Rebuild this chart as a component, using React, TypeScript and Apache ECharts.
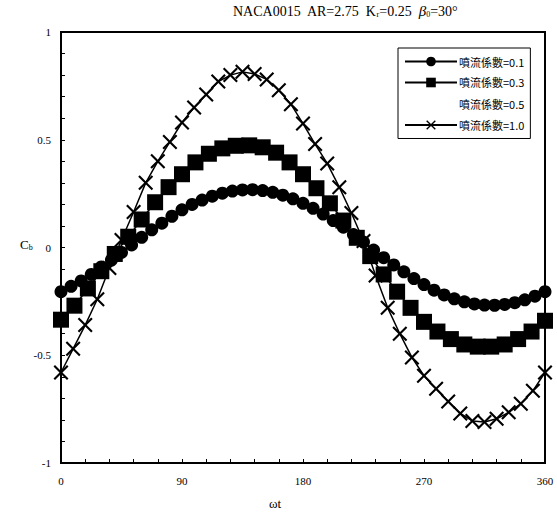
import React, { useEffect, useRef } from "react";
import * as echarts from "echarts";

const TITLE = "NACA0015  AR=2.75  K";
const SERIES_NAMES = ["噴流係數=0.1", "噴流係數=0.3", "噴流係數=0.5", "噴流係數=1.0"];

const X_LABELS = [0, 90, 180, 270, 360];
const Y_LABELS = [-1, -0.5, 0, 0.5, 1];

const THETA_01 = [0, 7.5, 15, 22.5, 30, 37.5, 45, 52.5, 60, 67.5, 75, 82.5, 90, 97.5, 105, 112.5, 120, 127.5, 135, 142.5, 150, 157.5, 165, 172.5, 180, 187.5, 195, 202.5, 210, 217.5, 225, 232.5, 240, 247.5, 255, 262.5, 270, 277.5, 285, 292.5, 300, 307.5, 315, 322.5, 330, 337.5, 345, 352.5, 360];
const CB_01 = [-0.205, -0.18, -0.155, -0.125, -0.09, -0.058, -0.023, 0.012, 0.047, 0.082, 0.113, 0.145, 0.175, 0.2, 0.22, 0.238, 0.252, 0.262, 0.267, 0.268, 0.264, 0.256, 0.243, 0.226, 0.205, 0.182, 0.155, 0.125, 0.094, 0.06, 0.025, -0.012, -0.047, -0.081, -0.113, -0.144, -0.172, -0.198, -0.22, -0.238, -0.252, -0.262, -0.267, -0.268, -0.264, -0.256, -0.243, -0.226, -0.205];

const THETA_03 = [0, 10, 20, 30, 40, 50, 60, 70, 80, 90, 100, 110, 120, 130, 140, 150, 160, 170, 180, 190, 200, 210, 220, 230, 240, 250, 260, 270, 280, 290, 300, 310, 320, 330, 340, 350, 360];
const CB_03 = [-0.335, -0.27, -0.19, -0.11, -0.03, 0.05, 0.13, 0.21, 0.28, 0.34, 0.395, 0.435, 0.46, 0.472, 0.474, 0.465, 0.44, 0.395, 0.34, 0.275, 0.205, 0.125, 0.045, -0.04, -0.125, -0.205, -0.28, -0.345, -0.39, -0.425, -0.45, -0.46, -0.46, -0.45, -0.425, -0.39, -0.34];

const THETA_05: number[] = [];
const CB_05: number[] = [];

const THETA_10 = [0, 9, 18, 27, 36, 45, 54, 63, 72, 81, 90, 99, 108, 117, 126, 135, 144, 153, 162, 171, 180, 189, 198, 207, 216, 225, 234, 243, 252, 261, 270, 279, 288, 297, 306, 315, 324, 333, 342, 351, 360];
const CB_10 = [-0.58, -0.47, -0.36, -0.24, -0.095, 0.035, 0.165, 0.3, 0.4, 0.49, 0.58, 0.65, 0.71, 0.77, 0.8, 0.815, 0.805, 0.78, 0.73, 0.665, 0.575, 0.48, 0.39, 0.28, 0.16, 0.03, -0.13, -0.28, -0.4, -0.51, -0.595, -0.655, -0.715, -0.77, -0.805, -0.81, -0.795, -0.765, -0.725, -0.665, -0.58];

const pairs = (xs: number[], ys: number[]) => xs.map((x, i) => [x, ys[i]]);

const X_SYMBOL =
  "path://M0,0.1 L0.1,0 L0.5,0.4 L0.9,0 L1,0.1 L0.6,0.5 L1,0.9 L0.9,1 L0.5,0.6 L0.1,1 L0,0.9 L0.4,0.5 Z";

const SERIF = "'Liberation Serif', 'DejaVu Serif', serif";
const CJK = "'Noto Sans CJK TC', 'Noto Sans CJK SC', sans-serif";

export default function App() {
  const ref = useRef<HTMLDivElement>(null);
  useEffect(() => {
    if (!ref.current) return;
    const chart = echarts.init(ref.current, undefined, { renderer: "svg" });
    const near = (v: number, list: number[]) => list.some((l) => Math.abs(l - v) < 1e-6);
    chart.setOption({
      animation: false,
      backgroundColor: "#fff",
      grid: {
        left: 61,
        right: 12,
        top: 32,
        bottom: 55,
        show: true,
        borderColor: "#000",
        borderWidth: 2,
        backgroundColor: "transparent",
      },
      legend: {
        left: 398,
        top: 48,
        orient: "vertical",
        backgroundColor: "#fff",
        borderColor: "#000",
        borderWidth: 1,
        borderRadius: 0,
        padding: [8, 6, 8, 6],
        itemGap: 10,
        itemWidth: 52,
        itemHeight: 12,
        textStyle: { fontFamily: CJK, fontSize: 11, color: "#000", padding: [0, 0, 0, -3] },
        data: [
          { name: SERIES_NAMES[0] },
          { name: SERIES_NAMES[1] },
          { name: SERIES_NAMES[2], icon: "none" },
          { name: SERIES_NAMES[3] },
        ],
      },
      xAxis: {
        type: "value",
        min: 0,
        max: 360,
        interval: 18,
        axisLine: { show: true, onZero: false, lineStyle: { color: "#000", width: 2 } },
        axisTick: { show: true, inside: true, length: 4, lineStyle: { color: "#000" } },
        splitLine: { show: false },
        axisLabel: {
          margin: 12,
          fontFamily: SERIF,
          fontSize: 11,
          color: "#000",
          showMinLabel: true,
          showMaxLabel: true,
          formatter: (v: number) => (near(v, X_LABELS) ? String(Math.round(v)) : ""),
        },
      },
      yAxis: {
        type: "value",
        min: -1,
        max: 1,
        interval: 0.1,
        axisLine: { show: true, onZero: false, lineStyle: { color: "#000", width: 2 } },
        axisTick: { show: true, inside: true, length: 4, lineStyle: { color: "#000" } },
        splitLine: { show: false },
        axisLabel: {
          margin: 10,
          fontFamily: SERIF,
          fontSize: 11,
          color: "#000",
          showMinLabel: true,
          showMaxLabel: true,
          formatter: (v: number) => {
            if (!near(v, Y_LABELS)) return "";
            const r = Math.round(v * 2) / 2;
            return Math.abs(r) < 1e-9 ? "0" : String(r);
          },
        },
      },
      series: [
        {
          name: SERIES_NAMES[0],
          type: "line",
          data: pairs(THETA_01, CB_01),
          symbol: "circle",
          symbolSize: 13,
          lineStyle: { color: "#000", width: 1.5 },
          itemStyle: { color: "#000" },
          z: 3,
        },
        {
          name: SERIES_NAMES[1],
          type: "line",
          data: pairs(THETA_03, CB_03),
          symbol: "rect",
          symbolSize: 16,
          lineStyle: { color: "#000", width: 1.5 },
          itemStyle: { color: "#000" },
          z: 2,
        },
        {
          name: SERIES_NAMES[2],
          type: "line",
          data: pairs(THETA_05, CB_05),
          symbol: "none",
          lineStyle: { color: "#000", width: 0, opacity: 0 },
          itemStyle: { color: "#000", opacity: 0 },
        },
        {
          name: SERIES_NAMES[3],
          type: "line",
          data: pairs(THETA_10, CB_10),
          symbol: X_SYMBOL,
          symbolSize: 15,
          lineStyle: { color: "#000", width: 1.5 },
          itemStyle: { color: "#000" },
          z: 4,
        },
      ],
      graphic: [
        {
          type: "text",
          left: 233,
          top: 3,
          style: {
            text: "{a|" + TITLE + "}{s|r}{a|=0.25  }{b|β}{s|0}{a|=30°}",
            rich: {
              a: { fontFamily: SERIF, fontSize: 14, color: "#000", verticalAlign: "bottom", lineHeight: 18 },
              b: { fontFamily: SERIF, fontSize: 15, fontStyle: "italic", color: "#000", verticalAlign: "bottom", lineHeight: 18 },
              s: { fontFamily: SERIF, fontSize: 8, color: "#000", verticalAlign: "bottom", lineHeight: 18 },
            },
          },
        },
        {
          type: "text",
          left: 20,
          top: 238,
          style: {
            text: "{c|C}{s|b}",
            rich: {
              c: { fontFamily: SERIF, fontSize: 13, color: "#000", verticalAlign: "bottom", lineHeight: 16 },
              s: { fontFamily: SERIF, fontSize: 8, color: "#000", verticalAlign: "bottom", lineHeight: 16 },
            },
          },
        },
        {
          type: "text",
          left: 269,
          top: 497,
          style: { text: "ωt", fontFamily: SERIF, fontSize: 13, fill: "#000" },
        },
      ],
    });
    return () => chart.dispose();
  }, []);
  return (
    <div
      ref={ref}
      style={{ position: "fixed", left: 0, top: 0, width: 557, height: 518, background: "#fff" }}
    />
  );
}
